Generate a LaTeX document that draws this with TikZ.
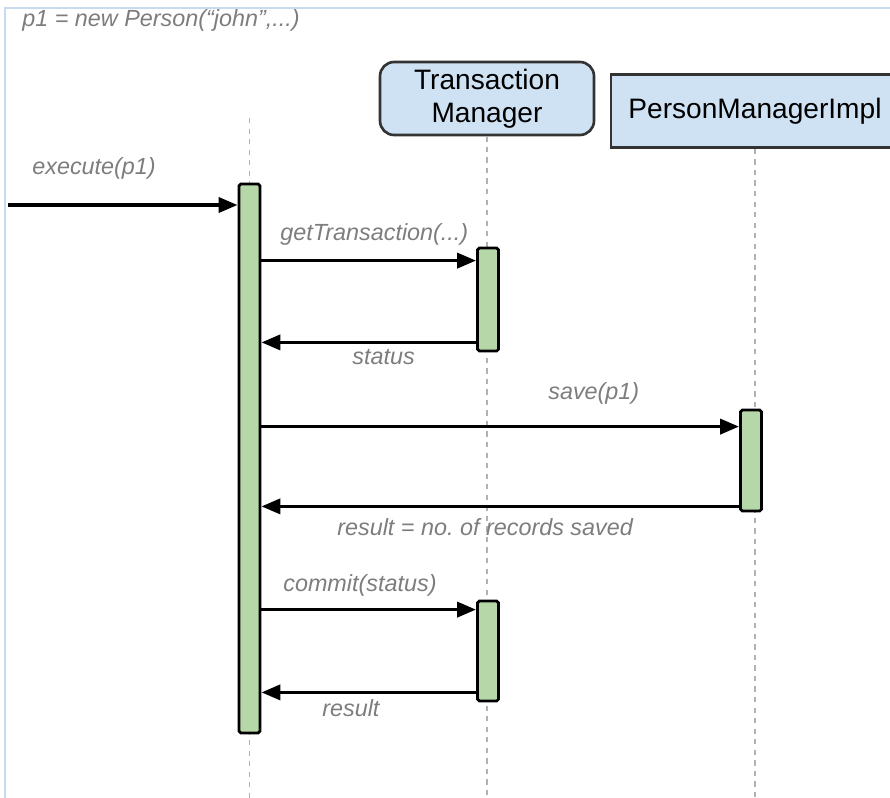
\documentclass[tikz,border=0pt]{standalone}
\usepackage{fontspec}
\setmainfont{Liberation Sans}
\usetikzlibrary{arrows.meta}
\definecolor{barfill}{RGB}{182,215,168}
\definecolor{boxfill}{RGB}{207,226,243}
\definecolor{labelgray}{RGB}{125,125,125}
\definecolor{framecol}{RGB}{200,218,238}
\frenchspacing
\tikzset{
  lifebox/.style={draw=black!80, line width=1.5pt, fill=boxfill, minimum height=1.46cm, align=center, font=\fontsize{16}{18.7}\selectfont},
  actbar/.style={draw=black, line width=1.6pt, fill=barfill, minimum width=0.42cm, inner sep=0pt, rounded corners=1pt},
  lifeline/.style={draw=black!30, dashed, line width=0.6pt},
  msg/.style={line width=2.1pt, -{Triangle[length=0.38cm, width=0.3cm]}},
  msglabel/.style={text=labelgray, anchor=west, inner sep=0pt, font=\fontsize{13.3}{16}\selectfont\itshape},
}
\begin{document}
\begin{tikzpicture}[x=0.02cm, y=-0.02cm]
            \useasboundingbox (0,0) rectangle (890,798);
            % frame
            \draw[framecol, line width=1.4pt] (5,798) -- (5,8) -- (890,8);
            \node[msglabel] (newp) at (22,20) {p1 = new Person(“john”,...)};

            % Objects
            \node[lifebox, rounded corners=8pt, minimum width=4.28cm] (tm) at (487,98.5) {Transaction\\Manager};
            \node[lifebox, minimum width=5.76cm] (pm) at (755,111) {PersonManagerImpl};
            \coordinate (mainTop) at (249.5,118);
            \coordinate (mainEnd) at (249.5,798);

            % Lifelines
            \draw[lifeline] (mainTop) -- (mainEnd);
            \draw[lifeline] (tm.south) -- (tm.south |- mainEnd);
            \draw[lifeline] (pm.south) -- (pm.south |- mainEnd);

            % Activation bars
            \node[actbar, minimum height=10.98cm] (main) at (249.5,458.5) {};
            \node[actbar, minimum height=2.06cm] (tx1) at (488,299.5) {};
            \node[actbar, minimum height=2.02cm] (pm1) at (751,460.5) {};
            \node[actbar, minimum height=2cm] (tx2) at (488,651) {};

            % execute
            \coordinate (caller) at (8,205);
            \draw[msg] (caller) -- (caller -| main.west);
            \node[msglabel] (lexec) at (32,168) {execute(p1)};

            % getTransaction / status
            \coordinate (getIn) at ([yshift=-0.28cm]tx1.north west);
            \coordinate (statOut) at ([yshift=0.2cm]tx1.south west);
            \draw[msg] (main.east |- getIn) -- (getIn);
            \draw[msg] (statOut) -- (main.east |- statOut);
            \node[msglabel] (lget) at (280,234) {getTransaction(...)};
            \node[msglabel] (lstat) at (352,357) {status};

            % save / result
            \coordinate (saveIn) at ([yshift=-0.36cm]pm1.north west);
            \coordinate (resOut) at ([yshift=0.12cm]pm1.south west);
            \draw[msg] (main.east |- saveIn) -- (saveIn);
            \draw[msg] (resOut) -- (main.east |- resOut);
            \node[msglabel] (lsave) at (548,393) {save(p1)};
            \node[msglabel] (lres) at (337,527) {result = no. of records saved};

            % commit / result
            \coordinate (comIn) at ([yshift=-0.2cm]tx2.north west);
            \coordinate (endOut) at ([yshift=0.2cm]tx2.south west);
            \draw[msg] (main.east |- comIn) -- (comIn);
            \draw[msg] (endOut) -- (main.east |- endOut);
            \node[msglabel] (lcom) at (283,585) {commit(status)};
            \node[msglabel] (lend) at (322,708) {result};
        \end{tikzpicture}
\end{document}
